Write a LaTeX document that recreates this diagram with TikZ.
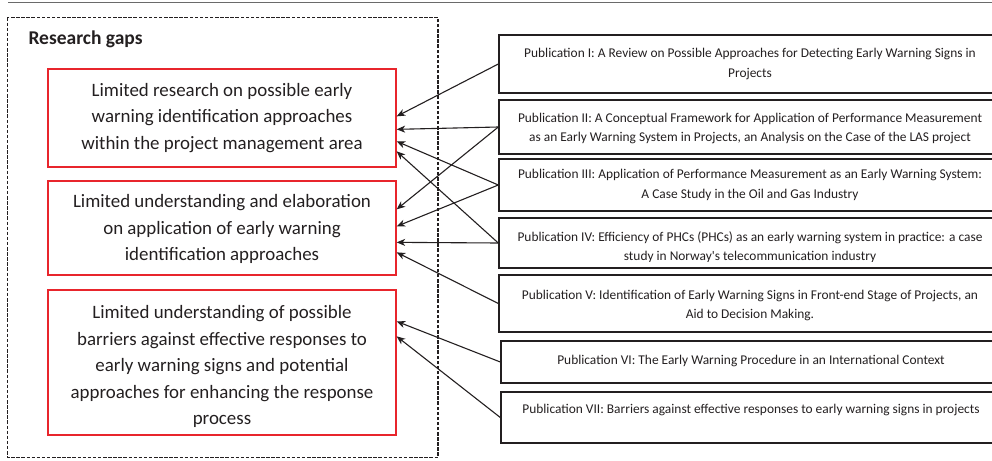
\documentclass[tikz,border=0pt]{standalone}
\usepackage{fontspec}
\setmainfont{Carlito}[Ligatures=TeXOff]
\usetikzlibrary{arrows.meta}
\definecolor{ink}{HTML}{231F20}
\definecolor{gapred}{HTML}{E8252C}
\definecolor{rule}{HTML}{6A6A6A}
% centred lines, moved vertically without changing the box size
\newcommand\shiftedlines[2]{\raisebox{#1}[\height][\depth]{\begin{tabular}{@{}c@{}}#2\end{tabular}}}
\tikzset{
  gapbox/.style={draw=gapred, line width=1.3pt, text=ink, align=center,
    minimum width=348pt, inner sep=0pt,
    font=\fontsize{18.9}{26.4}\selectfont},
  pubbox/.style={draw=ink, line width=1.4pt, text=ink, align=center,
    inner sep=0pt, font=\fontsize{13.4}{19.2}\selectfont},
  link/.style={draw=ink, line width=1.1pt,
    -{Stealth[length=8.5pt,width=7pt,inset=2.5pt]}},
  gapframe/.style={draw=ink, line width=1.1pt, dash pattern=on 3.5pt off 1.6pt},
}
\begin{document}
\begin{tikzpicture}[x=1pt,y=-1pt]
\useasboundingbox (0,0) rectangle (992,460);
\clip (0,0) rectangle (992,460);

% rule along the top of the page
\draw[rule, line width=0.8pt] (8,2.5) -- (992,2.5);

% frame around the research gaps
\draw[gapframe] (7.5,17.5) rectangle (438,457.5);
\node[anchor=base west, text=ink, font=\fontsize{19.5}{24}\selectfont\bfseries]
  (title) at (25,45) {Research gaps};

% research gaps
\node[gapbox, minimum height=98pt] (gap1) at (222,118)
  {Limited research on possible early\\warning identification approaches\\within the project management area};
\node[gapbox, minimum height=94pt] (gap2) at (222,228)
  {\shiftedlines{-1pt}{Limited understanding and elaboration\\on application of early warning\\identification approaches}};
\node[gapbox, minimum height=145pt] (gap3) at (222,362.5)
  {\shiftedlines{-4pt}{Limited understanding of possible\\barriers against effective responses to\\early warning signs and potential\\approaches for enhancing the response\\process}};

% publications
\node[pubbox, minimum width=502pt, minimum height=58pt] (pub1) at (750,64)
  {Publication I: A Review on Possible Approaches for Detecting Early Warning Signs in\\Projects};
\node[pubbox, minimum width=502pt, minimum height=54pt] (pub2) at (750,127)
  {\shiftedlines{-1.5pt}{Publication II: A Conceptual Framework for Application of Performance Measurement\\as an Early Warning System in Projects, an Analysis on the Case of the LAS project}};
\node[pubbox, minimum width=502pt, minimum height=52pt] (pub3) at (750,185)
  {Publication III: Application of Performance Measurement as an Early Warning System:\\A Case Study in the Oil and Gas Industry};
% the text box of publication IV cuts off the descenders of its last line
\begin{scope}[even odd rule]
  \clip (0,0) rectangle (992,460) (505,261.3) rectangle (995,266.5);
  \node[pubbox, minimum width=502pt, minimum height=50pt] (pub4) at (750,243)
    {\shiftedlines{-4.5pt}{Publication IV: Efficiency of PHCs (PHCs) as an early warning system in practice: a case\\study in Norway's telecommunication industry}};
\end{scope}
\node[pubbox, minimum width=502pt, minimum height=57pt] (pub5) at (750,303.5)
  {\shiftedlines{-2pt}{Publication V: Identification of Early Warning Signs in Front-end Stage of Projects, an\\Aid to Decision Making.}};
\node[pubbox, minimum width=500pt, minimum height=42pt] (pub6) at (751,362)
  {\raisebox{1.5pt}[\height][\depth]{Publication VI: The Early Warning Procedure in an International Context}};
\node[pubbox, minimum width=500pt, minimum height=51pt] (pub7) at (751,417.5)
  {\raisebox{7.5pt}[\height][\depth]{Publication VII: Barriers against effective responses to early warning signs in projects}};

% links from publications to the gaps they address
\draw[link] (pub1.west) -- ([yshift=-48pt]gap1.north east);
\draw[link] (pub2.west) -- ([yshift=-61pt]gap1.north east);
\draw[link] (pub2.west) -- ([yshift=-29pt]gap2.north east);
\draw[link] (pub3.west) -- ([yshift=-73pt]gap1.north east);
\draw[link] (pub3.west) -- ([yshift=-46pt]gap2.north east);
\draw[link] (pub4.west) -- ([yshift=-83pt]gap1.north east);
\draw[link] (pub4.west) -- ([yshift=-62pt]gap2.north east);
\draw[link] (pub5.west) -- ([yshift=-72pt]gap2.north east);
\draw[link] (pub6.west) -- ([yshift=-32pt]gap3.north east);
\draw[link] (pub7.west) -- ([yshift=-47pt]gap3.north east);
\end{tikzpicture}
\end{document}
